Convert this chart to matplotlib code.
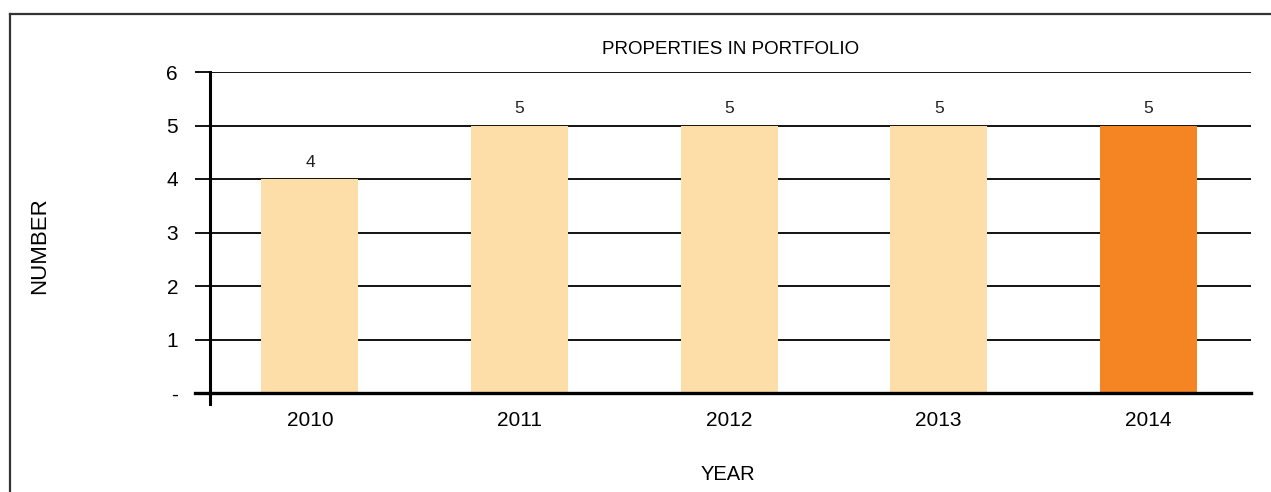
import matplotlib
matplotlib.use("Agg")
import matplotlib.pyplot as plt
from matplotlib.lines import Line2D

years = ["2010", "2011", "2012", "2013", "2014"]
counts = [4, 5, 5, 5, 5]
ytick_vals = [0, 1, 2, 3, 4, 5, 6]
ytick_labels = ["-", "1", "2", "3", "4", "5", "6"]

LIGHT = "#FDDEA8"
ORANGE = "#F58423"

plt.rcParams["font.family"] = ["Liberation Sans Narrow", "Liberation Sans", "DejaVu Sans"]

W, H = 1271, 492
fig = plt.figure(figsize=(W / 100, H / 100), dpi=100)
ax = fig.add_axes([210 / W, 1 - 393 / H, (1251 - 210) / W, (393 - 72) / H])

colors = [LIGHT] * (len(years) - 1) + [ORANGE]
x = list(range(len(years)))
ax.bar(x, counts, width=0.463, color=colors, zorder=3)
for xi, v in zip(x, counts):
    ax.text(xi, v + 0.17, str(v), ha="center", va="bottom", fontsize=12.5, color="#222222")

ax.set_xlim(-0.477, 4.49)
ax.set_ylim(0, 6)
ax.set_yticks(ytick_vals)
ax.set_yticklabels(ytick_labels, fontsize=15)
ax.set_xticks(x)
ax.set_xticklabels(years, fontsize=15)

ax.yaxis.grid(True, color="black", linewidth=1.3, zorder=0)
ax.set_axisbelow(True)
ax.tick_params(axis="y", length=11, width=1.3, pad=12, color="black")
ax.tick_params(axis="x", length=0, pad=13)

for s in ["top", "right"]:
    ax.spines[s].set_visible(False)
ax.spines["bottom"].set_linewidth(2.4)
ax.spines["bottom"].set_zorder(4)
ax.spines["left"].set_linewidth(2.2)
ax.spines["left"].set_bounds(-0.2, 6)
ax.spines["left"].set_zorder(4)
# extend zero line to the left like the tick marks
ax.plot([-0.477 - 15 / 209.5, -0.477], [0, 0], color="black", lw=2.4, clip_on=False, zorder=4)

ax.set_title("PROPERTIES IN PORTFOLIO", fontsize=13.5, pad=13)
fig.text(728 / W, 1 - 474 / H, "YEAR", ha="center", va="center", fontsize=14.5)
fig.text(40 / W, 1 - 246 / H, "NUMBER", ha="center", va="center", rotation=90, fontsize=16)

# outer frame (top and left edges)
fig.add_artist(Line2D([10 / W, 1], [1 - 14 / H, 1 - 14 / H], color="#333333", lw=1.6,
                      transform=fig.transFigure))
fig.add_artist(Line2D([10 / W, 10 / W], [0, 1 - 14 / H], color="#333333", lw=1.6,
                      transform=fig.transFigure))

fig.savefig("out.png", dpi=100)
